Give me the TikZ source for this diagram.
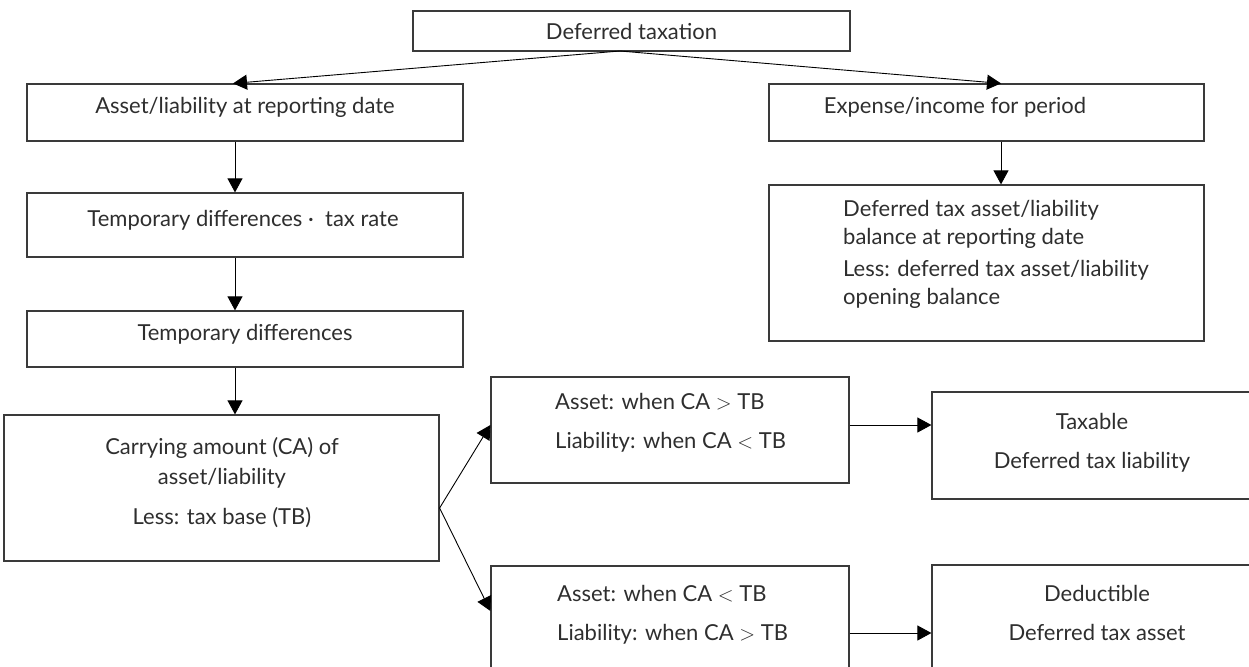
\documentclass[tikz,border=0pt]{standalone}
\usepackage{fontspec}
\setmainfont{Lato}
\usetikzlibrary{arrows.meta}
\definecolor{boxline}{HTML}{3A3A3A}
\definecolor{inktext}{HTML}{2E2E2E}
\newcommand{\relgt}{\ensuremath{>}}
\newcommand{\rellt}{\ensuremath{<}}
\begin{document}
\begin{tikzpicture}[x=1pt,y=-1pt,
  box/.style 2 args={draw=boxline,line width=1.2pt,inner sep=0pt,
    minimum width=#1,minimum height=#2,text=inktext,
    font=\fontsize{22}{26}\selectfont},
  txt/.style={inner sep=0pt,text=inktext,text height=1.2ex,text depth=0.6ex,
    font=\fontsize{22}{26}\selectfont},
  conn/.style={draw=black,line width=0.9pt,
    -{Triangle[length=14pt,width=15pt]}}]
\useasboundingbox (0,0) rectangle (1249,666);
\clip (0,0) rectangle (1249,666);

% boxes
\node[box={437}{40}] (top) at (631.5,31) {Deferred taxation};
\node[box={436}{57}] (asset) at (245,112.5) {};
\node[box={436}{64}] (rate) at (245,225) {};
\node[box={436}{56}] (tdiff) at (245,339) {};
\node[box={435}{146}] (carry) at (221.5,488) {};
\node[box={358}{106}] (up) at (670,430) {};
\node[box={358}{140}] (lo) at (670,636) {};
\node[box={368}{107}] (taxable) at (1116,445.5) {};
\node[box={368}{140}] (deduct) at (1116,635) {};
\node[box={435}{57}] (expense) at (986.5,112.5) {};
\node[box={435}{156}] (dtbal) at (986.5,263) {};

% texts
\node[txt] (tasset) at (245,112) {Asset/liability at reporting date};
\node[txt] (trate) at (243,225) {Temporary differences · \ tax rate};
\node[txt] (ttdiff) at (245,339) {Temporary differences};
\node[txt] (tcarry1) at (222,453) {Carrying amount (CA) of};
\node[txt] (tcarry2) at (222,483) {asset/liability};
\node[txt] (tcarry3) at (222,523) {Less: tax base (TB)};
\node[txt,anchor=west] (tup1) at (555,408) {Asset: when CA \relgt\ TB};
\node[txt,anchor=west] (tup2) at (555,447) {Liability: when CA \rellt\ TB};
\node[txt,anchor=west] (tlo1) at (557,600) {Asset: when CA \rellt\ TB};
\node[txt,anchor=west] (tlo2) at (557,639) {Liability: when CA \relgt\ TB};
\node[txt] (ttax1) at (1092,428) {Taxable};
\node[txt] (ttax2) at (1092,467) {Deferred tax liability};
\node[txt] (tded1) at (1097,600) {Deductible};
\node[txt] (tded2) at (1097,639) {Deferred tax asset};
\node[txt] (texp) at (955,112) {Expense/income for period};
\node[txt,anchor=west] (tbal1) at (843,215) {Deferred tax asset/liability};
\node[txt,anchor=west] (tbal2) at (843,243) {balance at reporting date};
\node[txt,anchor=west] (tbal3) at (843,275) {Less: deferred tax asset/liability};
\node[txt,anchor=west] (tbal4) at (843,303) {opening balance};

% guide coordinates for connector columns and rows
\coordinate (apex) at (620,51);
\coordinate (ltip) at (233,0);
\coordinate (lcol) at (235,0);
\coordinate (rcol) at (1001,0);
\coordinate (ysplit) at (0,508);
\coordinate (yup) at (0,425);
\coordinate (ylo) at (0,611);
\coordinate (ylo2) at (0,633);
\coordinate (split) at (carry.east |- ysplit);

% connectors
\draw[conn] (apex) -- (asset.north -| ltip);
\draw[conn] (apex) -- (expense.north -| rcol);
\draw[conn] (asset.south -| lcol) -- (rate.north -| lcol);
\draw[conn] (rate.south -| lcol) -- (tdiff.north -| lcol);
\draw[conn] (tdiff.south -| lcol) -- (carry.north -| lcol);
\draw[conn] (expense.south -| rcol) -- (dtbal.north -| rcol);
\draw[conn] (split) -- (up.west |- yup);
\draw[conn] (split) -- (lo.west |- ylo);
\draw[conn] (up.east |- yup) -- (taxable.west |- yup);
\draw[conn] (lo.east |- ylo2) -- (deduct.west |- ylo2);
\end{tikzpicture}
\end{document}
